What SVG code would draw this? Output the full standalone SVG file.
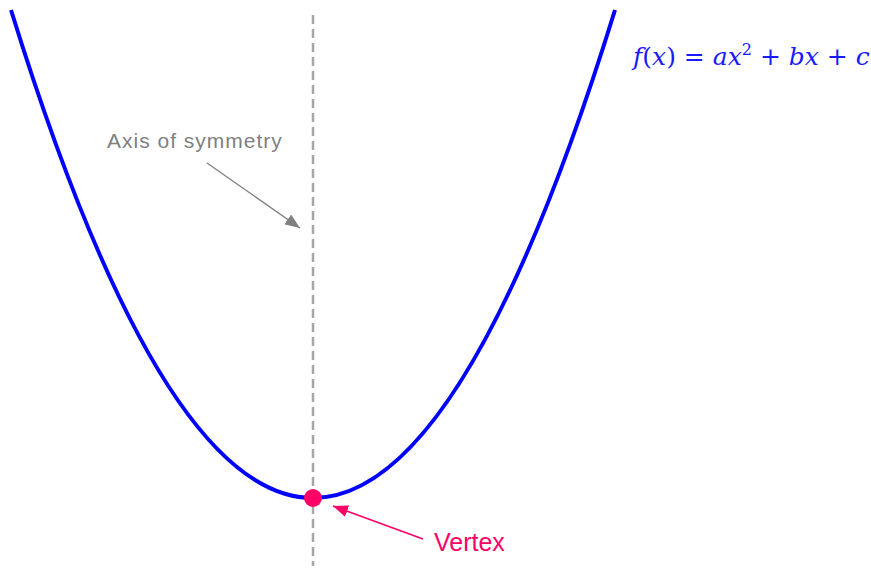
<svg xmlns="http://www.w3.org/2000/svg" width="871" height="571" viewBox="0 0 871 571">
<style>
.lbl{font-family:"Liberation Sans",Arial,sans-serif}
.math{font-family:"DejaVu Serif","Liberation Serif",serif;fill:#1a1aff;font-size:25px}
.it{font-style:italic}
</style>
<defs>
<marker id="ag" viewBox="0 0 15 12" refX="15" refY="6" markerWidth="15" markerHeight="12" orient="auto" markerUnits="userSpaceOnUse"><path d="M0,0 L15,6 L0,12 z" fill="#808080"/></marker>
<marker id="ap" viewBox="0 0 15 12" refX="15" refY="6" markerWidth="15" markerHeight="12" orient="auto" markerUnits="userSpaceOnUse"><path d="M0,0 L15,6 L0,12 z" fill="#ff0066"/></marker>
</defs>
<rect width="871" height="571" fill="#fff"/>
<g id="axis">
<line x1="313" y1="15" x2="313" y2="566" stroke="#a6a6a6" stroke-width="2.5" stroke-dasharray="9,5"/>
</g>
<g id="parabola">
<path d="M11,10 Q313,986 615,10" fill="none" stroke="#0000ff" stroke-width="4"/>
</g>
<g id="vertex">
<circle cx="313" cy="498" r="9" fill="#ff0066"/>
</g>
<g id="connectors">
<line x1="207" y1="163" x2="300" y2="228" stroke="#808080" stroke-width="1.4" marker-end="url(#ag)"/>
<line x1="423" y1="539" x2="333" y2="506" stroke="#ff0066" stroke-width="1.6" marker-end="url(#ap)"/>
</g>
<g id="axis-label">
<text class="lbl" x="107" y="148" font-size="21" letter-spacing="1" fill="#808080">Axis of symmetry</text>
</g>
<g id="vertex-label">
<text class="lbl" x="434" y="551" font-size="25" fill="#ff0066">Vertex</text>
</g>
<g id="formula">
<text class="math" x="633" y="65"><tspan class="it">f</tspan>(<tspan class="it">x</tspan>) = <tspan class="it">ax</tspan><tspan font-size="16" dy="-10">2</tspan><tspan dy="10"> + </tspan><tspan class="it">bx</tspan> + <tspan class="it">c</tspan></text>
</g>
</svg>
